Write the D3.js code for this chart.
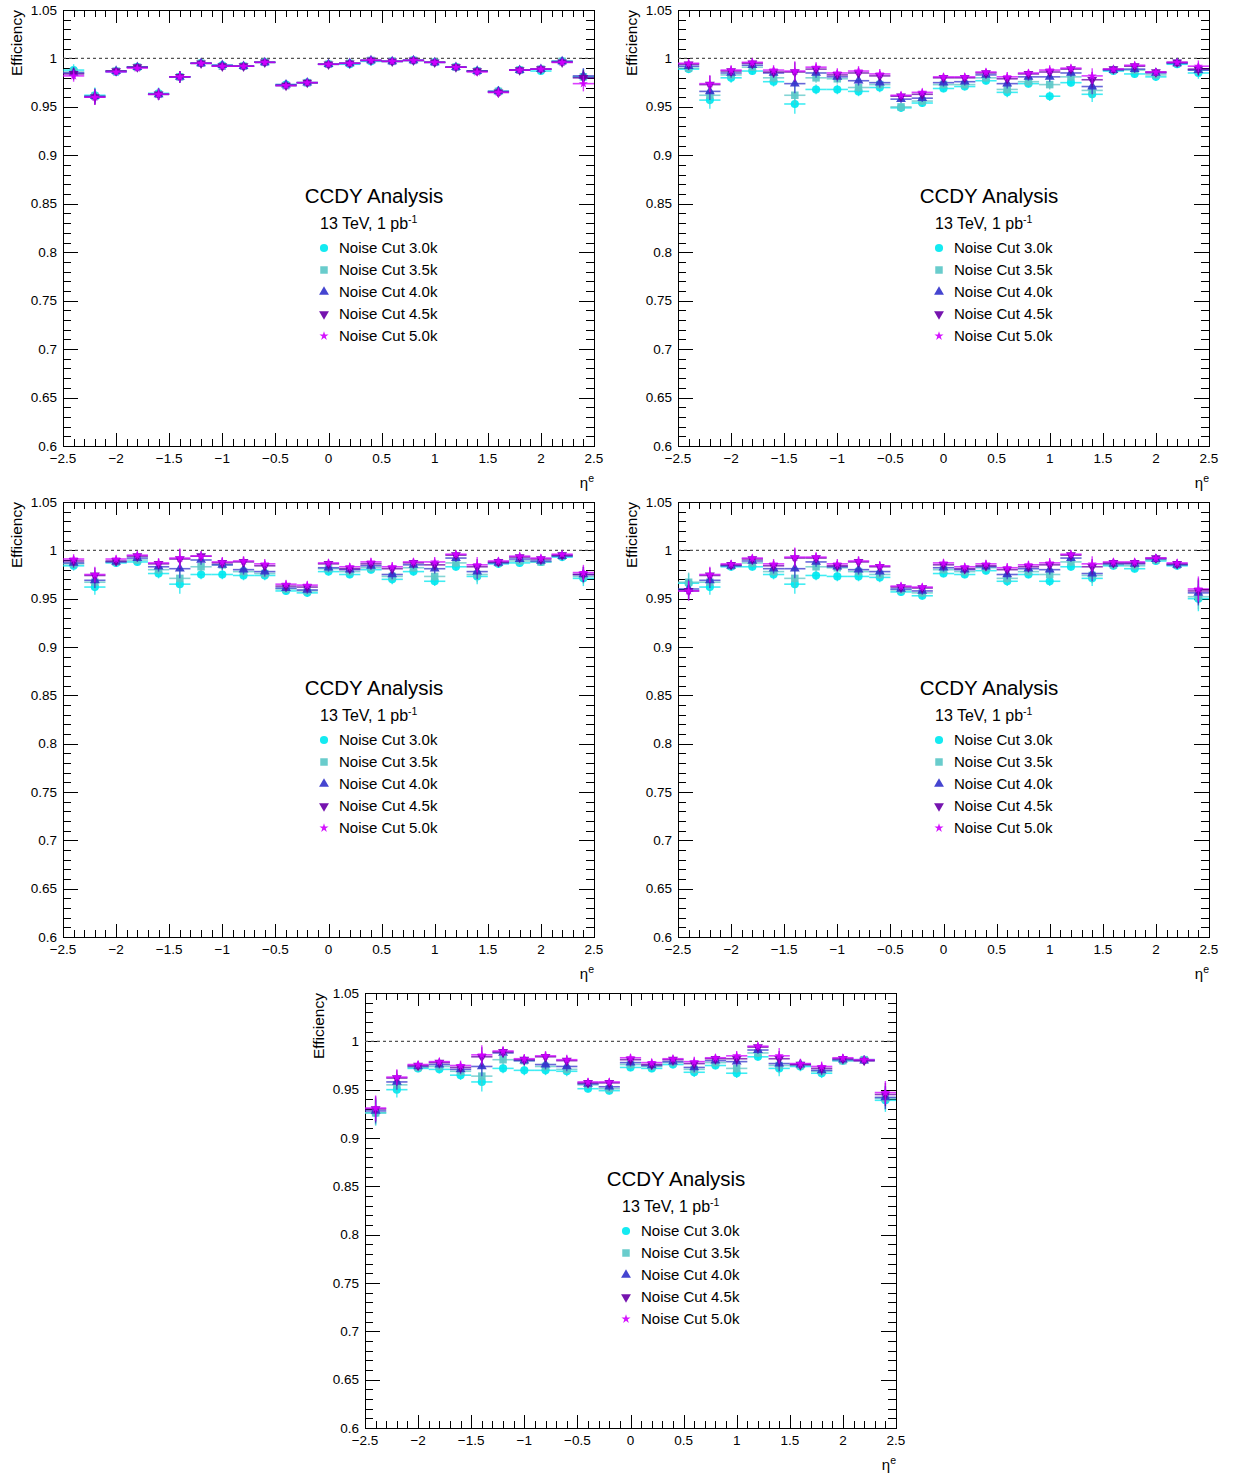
<!DOCTYPE html>
<html><head><meta charset="utf-8">
<script src="https://cdn.jsdelivr.net/npm/d3@7/dist/d3.min.js"></script>
<style>body{margin:0;background:#fff}svg{display:block;font-family:"Liberation Sans",Arial,sans-serif}</style>
</head><body>
<svg id="c" width="1234" height="1474"></svg>
<script>
// Bin centres in eta (bin width 0.2)
const etaBins = [-2.4,-2.2,-2.0,-1.8,-1.6,-1.4,-1.2,-1.0,-0.8,-0.6,-0.4,-0.2,0.0,0.2,0.4,0.6,0.8,1.0,1.2,1.4,1.6,1.8,2.0,2.2,2.4];
const seriesNames = ["Noise Cut 3.0k","Noise Cut 3.5k","Noise Cut 4.0k","Noise Cut 4.5k","Noise Cut 5.0k"];
const yTicks = [0.6,0.65,0.7,0.75,0.8,0.85,0.9,0.95,1,1.05];
const yTickLabels = ["0.6","0.65","0.7","0.75","0.8","0.85","0.9","0.95","1","1.05"];
const xTicks = [-2.5,-2,-1.5,-1,-0.5,0,0.5,1,1.5,2,2.5];
const xTickLabels = ["\u22122.5","\u22122","\u22121.5","\u22121","\u22120.5","0","0.5","1","1.5","2","2.5"];

// Panel 1
const p1_c30 = [0.988,0.962,0.986,0.991,0.964,0.981,0.995,0.993,0.992,0.996,0.973,0.975,0.994,0.994,0.997,0.997,0.998,0.996,0.991,0.987,0.966,0.988,0.987,0.997,0.981];
const p1_c35 = [0.986,0.961,0.987,0.991,0.963,0.981,0.995,0.992,0.992,0.996,0.972,0.975,0.994,0.995,0.998,0.997,0.998,0.996,0.991,0.987,0.966,0.988,0.989,0.997,0.981];
const p1_c40 = [0.985,0.961,0.987,0.991,0.963,0.981,0.995,0.993,0.992,0.996,0.973,0.975,0.994,0.995,0.998,0.997,0.998,0.996,0.991,0.987,0.966,0.988,0.989,0.997,0.982];
const p1_c45 = [0.984,0.960,0.987,0.991,0.963,0.981,0.995,0.992,0.992,0.996,0.972,0.975,0.994,0.995,0.998,0.997,0.998,0.996,0.991,0.987,0.965,0.988,0.989,0.996,0.980];
const p1_c50 = [0.982,0.960,0.986,0.990,0.963,0.981,0.995,0.992,0.992,0.996,0.972,0.975,0.994,0.995,0.998,0.997,0.998,0.996,0.991,0.986,0.965,0.988,0.989,0.996,0.974];
const p1_err = [0.006,0.008,0.003,0.003,0.006,0.006,0.003,0.003,0.003,0.003,0.003,0.003,0.003,0.003,0.003,0.003,0.003,0.003,0.003,0.004,0.005,0.003,0.003,0.003,0.008];
// Panel 2
const p2_c30 = [0.989,0.957,0.980,0.987,0.976,0.953,0.968,0.968,0.966,0.970,0.949,0.954,0.969,0.971,0.977,0.965,0.974,0.961,0.975,0.963,0.987,0.984,0.981,0.994,0.985];
const p2_c35 = [0.990,0.962,0.983,0.991,0.980,0.962,0.980,0.979,0.970,0.973,0.950,0.956,0.973,0.973,0.980,0.968,0.976,0.973,0.981,0.967,0.988,0.988,0.983,0.995,0.988];
const p2_c40 = [0.992,0.966,0.985,0.993,0.985,0.974,0.985,0.981,0.977,0.975,0.958,0.959,0.975,0.976,0.983,0.974,0.981,0.981,0.985,0.971,0.988,0.989,0.985,0.995,0.988];
const p2_c45 = [0.994,0.973,0.987,0.995,0.986,0.986,0.989,0.983,0.985,0.982,0.961,0.963,0.980,0.980,0.985,0.979,0.984,0.986,0.989,0.978,0.989,0.992,0.986,0.996,0.989];
const p2_c50 = [0.995,0.974,0.988,0.996,0.988,0.987,0.991,0.985,0.987,0.984,0.962,0.965,0.981,0.981,0.986,0.981,0.985,0.988,0.990,0.982,0.989,0.993,0.986,0.996,0.992];
const p2_err = [0.004,0.009,0.005,0.004,0.005,0.010,0.005,0.005,0.005,0.005,0.004,0.004,0.004,0.004,0.004,0.005,0.004,0.005,0.004,0.008,0.003,0.004,0.004,0.003,0.006];
// Panel 3
const p3_c30 = [0.984,0.962,0.987,0.988,0.976,0.965,0.975,0.975,0.974,0.974,0.958,0.956,0.978,0.975,0.980,0.970,0.978,0.968,0.983,0.973,0.986,0.987,0.988,0.993,0.971];
const p3_c35 = [0.986,0.967,0.988,0.990,0.980,0.971,0.983,0.985,0.978,0.976,0.960,0.958,0.981,0.978,0.982,0.973,0.982,0.973,0.987,0.975,0.987,0.989,0.988,0.994,0.973];
const p3_c40 = [0.987,0.969,0.988,0.992,0.983,0.981,0.990,0.985,0.980,0.978,0.961,0.959,0.982,0.980,0.984,0.975,0.985,0.981,0.992,0.978,0.987,0.991,0.989,0.994,0.975];
const p3_c45 = [0.989,0.974,0.989,0.994,0.986,0.991,0.994,0.987,0.988,0.984,0.963,0.962,0.986,0.981,0.986,0.981,0.987,0.985,0.995,0.983,0.988,0.993,0.991,0.995,0.975];
const p3_c50 = [0.991,0.975,0.991,0.995,0.987,0.992,0.994,0.988,0.989,0.986,0.965,0.964,0.987,0.983,0.988,0.983,0.988,0.988,0.996,0.985,0.989,0.994,0.992,0.996,0.977];
const p3_err = [0.005,0.008,0.004,0.004,0.005,0.010,0.005,0.005,0.005,0.005,0.004,0.004,0.004,0.004,0.004,0.005,0.004,0.005,0.004,0.008,0.004,0.004,0.004,0.003,0.008];
// Panel 4
const p4_c30 = [0.966,0.962,0.983,0.983,0.975,0.965,0.974,0.973,0.973,0.972,0.957,0.953,0.976,0.975,0.979,0.968,0.975,0.968,0.983,0.971,0.984,0.981,0.989,0.984,0.950];
const p4_c35 = [0.967,0.967,0.984,0.987,0.978,0.971,0.983,0.982,0.978,0.975,0.959,0.956,0.980,0.978,0.982,0.971,0.978,0.975,0.988,0.974,0.985,0.984,0.990,0.985,0.952];
const p4_c40 = [0.960,0.969,0.984,0.989,0.981,0.981,0.988,0.983,0.980,0.978,0.960,0.958,0.982,0.980,0.983,0.975,0.981,0.980,0.992,0.976,0.986,0.986,0.991,0.985,0.956];
const p4_c45 = [0.958,0.974,0.985,0.991,0.984,0.992,0.992,0.984,0.988,0.983,0.962,0.961,0.985,0.981,0.984,0.980,0.983,0.985,0.995,0.983,0.987,0.987,0.992,0.986,0.958];
const p4_c50 = [0.958,0.975,0.986,0.992,0.986,0.993,0.993,0.986,0.989,0.984,0.963,0.962,0.987,0.983,0.986,0.982,0.985,0.987,0.996,0.986,0.988,0.988,0.992,0.987,0.960];
const p4_err = [0.010,0.008,0.004,0.004,0.005,0.010,0.005,0.005,0.005,0.005,0.004,0.004,0.004,0.004,0.004,0.005,0.004,0.005,0.004,0.008,0.004,0.004,0.004,0.004,0.013];
// Panel 5
const p5_c30 = [0.926,0.950,0.972,0.971,0.965,0.958,0.972,0.970,0.970,0.969,0.951,0.949,0.973,0.972,0.976,0.968,0.975,0.967,0.984,0.972,0.974,0.967,0.980,0.981,0.939];
const p5_c35 = [0.926,0.955,0.973,0.974,0.969,0.964,0.981,0.980,0.974,0.971,0.955,0.951,0.976,0.974,0.978,0.971,0.978,0.972,0.988,0.975,0.975,0.969,0.980,0.981,0.941];
const p5_c40 = [0.928,0.958,0.974,0.976,0.971,0.974,0.988,0.980,0.976,0.974,0.956,0.953,0.978,0.975,0.979,0.973,0.980,0.979,0.991,0.977,0.976,0.970,0.981,0.980,0.942];
const p5_c45 = [0.930,0.962,0.975,0.978,0.973,0.984,0.989,0.981,0.984,0.980,0.957,0.957,0.981,0.976,0.981,0.977,0.982,0.982,0.994,0.982,0.976,0.972,0.982,0.980,0.945];
const p5_c50 = [0.931,0.963,0.976,0.979,0.975,0.986,0.990,0.982,0.985,0.981,0.958,0.958,0.983,0.978,0.982,0.979,0.983,0.985,0.995,0.985,0.977,0.974,0.983,0.981,0.947];
const p5_err = [0.013,0.008,0.004,0.004,0.005,0.010,0.005,0.005,0.005,0.005,0.004,0.004,0.004,0.004,0.004,0.005,0.004,0.005,0.004,0.008,0.005,0.005,0.004,0.004,0.012];

const colors = ["#00e8f0","#5cc8c8","#3535cc","#6a00a8","#d000ff"];
const shapes = ["circle","square","up","down","star"];

const panels = [
  {left:63, top:10, w:531, h:436, series:[p1_c30,p1_c35,p1_c40,p1_c45,p1_c50], err:p1_err},
  {left:678, top:10, w:531, h:436, series:[p2_c30,p2_c35,p2_c40,p2_c45,p2_c50], err:p2_err},
  {left:63, top:502, w:531, h:435, series:[p3_c30,p3_c35,p3_c40,p3_c45,p3_c50], err:p3_err},
  {left:678, top:502, w:531, h:435, series:[p4_c30,p4_c35,p4_c40,p4_c45,p4_c50], err:p4_err},
  {left:365, top:993, w:531, h:435, series:[p5_c30,p5_c35,p5_c40,p5_c45,p5_c50], err:p5_err}
];

const svg = d3.select("#c");

function symPath(shape){
  if(shape==="circle") return d3.symbol(d3.symbolCircle,52)();
  if(shape==="square") return d3.symbol(d3.symbolSquare,56)();
  if(shape==="up") return d3.symbol(d3.symbolTriangle,42)();
  if(shape==="down") return d3.symbol(d3.symbolTriangle,42)();
  return d3.symbol(d3.symbolStar,26)();
}
function symTransform(shape,x,y){
  return shape==="down" ? `translate(${x},${y}) rotate(180)` : `translate(${x},${y})`;
}

panels.forEach(p=>{
  const g = svg.append("g").attr("transform",`translate(${p.left},${p.top})`);
  const x = d3.scaleLinear().domain([-2.5,2.5]).range([0,p.w]);
  const y = d3.scaleLinear().domain([0.6,1.05]).range([p.h,0]);

  // ticks (ROOT style, inward, all four sides)
  const yMinor = d3.range(61,105).map(v=>v/100).filter(v=>Math.round(v*100)%5!==0);
  const xMinor = d3.range(-24,25).map(v=>v/10).filter(v=>Math.round(v*10)%5!==0);
  const tk = g.append("g").attr("stroke","#000").attr("stroke-width",1);
  yTicks.forEach(v=>{
    const yy = Math.round(y(v))+0.5;
    tk.append("line").attr("x1",0).attr("x2",15).attr("y1",yy).attr("y2",yy);
    tk.append("line").attr("x1",p.w-15).attr("x2",p.w).attr("y1",yy).attr("y2",yy);
  });
  yMinor.forEach(v=>{
    const yy = Math.round(y(v))+0.5;
    tk.append("line").attr("x1",0).attr("x2",8).attr("y1",yy).attr("y2",yy);
    tk.append("line").attr("x1",p.w-8).attr("x2",p.w).attr("y1",yy).attr("y2",yy);
  });
  xTicks.forEach(v=>{
    const xx = Math.round(x(v))+0.5;
    tk.append("line").attr("x1",xx).attr("x2",xx).attr("y1",p.h).attr("y2",p.h-13);
    tk.append("line").attr("x1",xx).attr("x2",xx).attr("y1",0).attr("y2",13);
  });
  xMinor.forEach(v=>{
    const xx = Math.round(x(v))+0.5;
    tk.append("line").attr("x1",xx).attr("x2",xx).attr("y1",p.h).attr("y2",p.h-7);
    tk.append("line").attr("x1",xx).attr("x2",xx).attr("y1",0).attr("y2",7);
  });
  g.append("rect").attr("x",0.5).attr("y",0.5).attr("width",p.w).attr("height",p.h)
    .attr("fill","none").attr("stroke","#000").attr("stroke-width",1);

  // tick labels
  yTicks.forEach((v,i)=>{
    g.append("text").attr("x",-6).attr("y",y(v)+4.5).attr("text-anchor","end")
      .attr("font-size",13.5).text(yTickLabels[i]);
  });
  xTicks.forEach((v,i)=>{
    g.append("text").attr("x",x(v)).attr("y",p.h+17).attr("text-anchor","middle")
      .attr("font-size",13.5).text(xTickLabels[i]);
  });
  // axis titles
  g.append("text").attr("transform",`translate(-41,0) rotate(-90)`).attr("text-anchor","end")
    .attr("font-size",15.5).text("Efficiency");
  const xt = g.append("text").attr("x",p.w).attr("y",p.h+42).attr("text-anchor","end").attr("font-size",15);
  xt.append("tspan").text("\u03b7");
  xt.append("tspan").attr("dy",-6).attr("font-size",10.5).text("e");

  // dashed line at 1
  g.append("line").attr("x1",0).attr("x2",p.w).attr("y1",y(1)).attr("y2",y(1))
    .attr("stroke","#555").attr("stroke-width",1.3).attr("stroke-dasharray","3,3");

  // data
  p.series.forEach((vals,si)=>{
    const sg = g.append("g");
    const col = colors[si];
    etaBins.forEach((eta,i)=>{
      const v = vals[i], e = p.err[i];
      sg.append("line").attr("x1",x(eta-0.1)).attr("x2",x(eta+0.1)).attr("y1",y(v)).attr("y2",y(v))
        .attr("stroke",col).attr("stroke-width",1.6).attr("opacity",0.75);
      sg.append("line").attr("x1",x(eta)).attr("x2",x(eta)).attr("y1",y(v-e)).attr("y2",y(v+e))
        .attr("stroke",col).attr("stroke-width",1.4).attr("opacity",0.75);
      sg.append("path").attr("d",symPath(shapes[si])).attr("transform",symTransform(shapes[si],x(eta),y(v)))
        .attr("fill",col).attr("opacity",0.92);
    });
  });

  // legend
  g.append("text").attr("x",311).attr("y",193).attr("text-anchor","middle").attr("font-size",20.5).text("CCDY Analysis");
  const t2 = g.append("text").attr("x",257).attr("y",219).attr("font-size",16);
  t2.append("tspan").text("13 TeV, 1 pb");
  t2.append("tspan").attr("dy",-6).attr("font-size",10.5).text("-1");
  seriesNames.forEach((nm,si)=>{
    const cy = 238 + si*22;
    g.append("path").attr("d",symPath(shapes[si])).attr("transform",symTransform(shapes[si],261,cy))
      .attr("fill",colors[si]).attr("opacity",0.92);
    g.append("text").attr("x",276).attr("y",cy+5).attr("font-size",15).text(nm);
  });
});
</script>
</body></html>
